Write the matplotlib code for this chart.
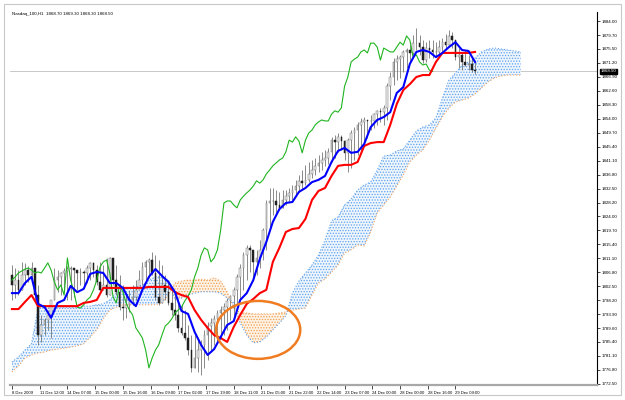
import matplotlib
matplotlib.use("Agg")
import matplotlib.pyplot as plt
import matplotlib.transforms as mtransforms
from matplotlib.patches import Ellipse, Rectangle
import numpy as np

title = "Nasdaq_100,H1  1868.70 1869.30 1868.30 1868.50"
last_price = 1868.50

# price bars, two hours per bar
high = [1809.0, 1808.1, 1807.5, 1810.0, 1809.7, 1808.7, 1810.0, 1807.5, 1802.9, 1793.7,
        1792.8, 1795.2, 1798.3, 1808.1, 1807.5, 1806.9, 1808.1, 1808.7, 1808.7, 1808.1,
        1807.5, 1808.1, 1807.5, 1809.0, 1810.0, 1810.0, 1809.0, 1810.0, 1809.0, 1811.2,
        1811.5, 1810.0, 1809.0, 1806.0, 1802.9, 1799.8, 1801.4, 1802.9, 1804.4, 1807.5,
        1810.0, 1810.6, 1811.2, 1813.0, 1812.1, 1810.6, 1809.0, 1806.0, 1804.4, 1801.4,
        1799.8, 1798.3, 1796.8, 1795.2, 1790.6, 1787.5, 1787.5, 1786.0, 1786.0, 1789.1,
        1791.5, 1792.8, 1793.7, 1795.2, 1796.5, 1797.4, 1798.9, 1799.8, 1802.3, 1806.3,
        1809.4, 1813.0, 1815.2, 1815.2, 1813.0, 1813.7, 1816.7, 1820.4, 1829.0, 1832.7,
        1832.7, 1832.1, 1831.5, 1832.1, 1832.1, 1832.7, 1833.6, 1835.2, 1836.7, 1838.2,
        1839.8, 1840.7, 1841.3, 1841.9, 1842.8, 1843.8, 1844.4, 1845.0, 1848.4, 1849.0,
        1849.6, 1849.0, 1847.4, 1848.1, 1850.5, 1851.4, 1853.0, 1854.2, 1854.5, 1853.6,
        1855.1, 1855.7, 1856.7, 1857.3, 1858.2, 1865.0, 1868.3, 1872.6, 1873.6, 1873.6,
        1875.1, 1875.7, 1876.6, 1879.7, 1881.8, 1879.7, 1878.2, 1877.5, 1878.2, 1878.2,
        1877.5, 1878.2, 1878.8, 1880.0, 1881.2, 1880.6, 1878.2, 1875.7, 1874.5, 1875.1,
        1873.6, 1872.6, 1871.4]
low = [1798.3, 1798.9, 1799.8, 1801.4, 1802.9, 1803.8, 1804.4, 1798.3, 1784.5, 1785.4,
       1787.5, 1789.1, 1786.6, 1798.3, 1800.8, 1799.8, 1801.4, 1798.3, 1798.3, 1799.2,
       1801.4, 1802.9, 1802.3, 1803.5, 1804.4, 1805.4, 1802.9, 1800.8, 1802.0, 1799.2,
       1806.0, 1802.9, 1799.8, 1795.2, 1792.2, 1792.8, 1794.6, 1796.8, 1798.3, 1801.4,
       1802.9, 1804.4, 1805.1, 1806.0, 1798.3, 1796.8, 1799.8, 1798.3, 1796.8, 1793.7,
       1792.2, 1788.5, 1787.5, 1786.0, 1781.4, 1776.2, 1778.3, 1776.2, 1775.3, 1777.4,
       1779.9, 1782.3, 1784.5, 1785.4, 1786.6, 1787.5, 1789.1, 1792.2, 1792.8, 1795.2,
       1798.3, 1801.4, 1804.4, 1806.9, 1805.1, 1806.0, 1808.1, 1810.6, 1813.7, 1819.8,
       1824.4, 1825.0, 1825.9, 1827.5, 1827.5, 1828.4, 1829.0, 1830.2, 1831.5, 1832.1,
       1833.6, 1834.5, 1835.8, 1836.7, 1837.6, 1838.2, 1839.5, 1840.1, 1840.7, 1841.9,
       1843.8, 1844.4, 1841.3, 1837.6, 1838.8, 1841.3, 1842.8, 1844.4, 1845.9, 1848.1,
       1850.5, 1851.1, 1852.1, 1853.0, 1852.1, 1853.6, 1859.7, 1864.3, 1865.9, 1866.5,
       1868.3, 1869.6, 1871.4, 1873.6, 1875.1, 1873.6, 1871.1, 1871.4, 1872.6, 1872.6,
       1872.9, 1873.6, 1874.5, 1875.7, 1876.6, 1875.7, 1872.0, 1869.6, 1868.9, 1870.2,
       1868.9, 1868.3, 1867.7]
close = [1802.9, 1804.4, 1801.4, 1806.0, 1807.5, 1806.0, 1808.1, 1799.8, 1787.5, 1790.6,
         1792.2, 1793.7, 1798.3, 1804.4, 1805.4, 1806.6, 1807.2, 1807.8, 1808.1, 1807.5,
         1806.6, 1806.9, 1806.6, 1808.1, 1809.7, 1807.5, 1803.8, 1801.4, 1802.9, 1799.8,
         1811.2, 1804.4, 1800.8, 1796.1, 1795.8, 1796.8, 1798.3, 1799.2, 1801.4, 1804.4,
         1808.4, 1810.0, 1810.6, 1806.6, 1799.2, 1797.4, 1802.9, 1800.8, 1797.4, 1795.2,
         1793.7, 1789.7, 1788.2, 1786.6, 1782.9, 1777.4, 1780.5, 1782.9, 1784.5, 1787.5,
         1790.3, 1791.2, 1792.5, 1794.3, 1795.2, 1796.1, 1798.0, 1799.5, 1801.4, 1805.4,
         1808.1, 1812.1, 1814.3, 1813.7, 1810.0, 1811.2, 1813.7, 1819.8, 1828.1, 1828.7,
         1828.7, 1827.5, 1826.6, 1829.0, 1830.2, 1831.2, 1832.1, 1833.3, 1834.9, 1834.2,
         1835.2, 1837.0, 1838.2, 1839.5, 1840.4, 1841.3, 1841.9, 1843.8, 1847.4, 1846.8,
         1848.4, 1847.1, 1843.5, 1847.4, 1849.6, 1850.5, 1852.1, 1853.0, 1853.6, 1853.3,
         1853.3, 1855.4, 1856.4, 1856.0, 1857.3, 1864.0, 1866.8, 1871.4, 1872.3, 1872.9,
         1874.5, 1875.1, 1874.2, 1877.2, 1877.2, 1876.0, 1872.0, 1875.7, 1875.1, 1874.5,
         1874.5, 1876.0, 1877.5, 1876.6, 1879.4, 1878.2, 1872.9, 1873.6, 1871.4, 1870.5,
         1870.8, 1868.9, 1868.5]
first_open = 1806.0

# ichimoku lines, one value every second bar
tenkan = [1800.4, 1800.4, 1803.5, 1805.4, 1797.1, 1796.1, 1792.8, 1797.4, 1798.3, 1802.6,
          1800.7, 1801.7, 1806.3, 1806.9, 1806.6, 1803.5, 1803.5, 1802.0, 1798.3, 1796.4,
          1801.4, 1805.4, 1807.8, 1805.7, 1803.8, 1800.7, 1794.9, 1794.0, 1788.5, 1784.5,
          1781.4, 1783.2, 1786.9, 1790.6, 1791.8, 1798.3, 1800.4, 1804.4, 1810.9, 1816.1,
          1822.3, 1826.2, 1828.1, 1828.4, 1831.5, 1832.7, 1834.5, 1835.2, 1836.4, 1840.7,
          1844.1, 1845.0, 1843.5, 1843.8, 1846.2, 1851.4, 1853.6, 1854.5, 1856.0, 1861.9,
          1863.7, 1870.8, 1874.5, 1875.1, 1874.5, 1872.9, 1874.2, 1876.0, 1877.5, 1875.1,
          1874.8, 1871.4]
kijun = [1795.5, 1795.5, 1797.7, 1799.8, 1796.4, 1796.4, 1796.4, 1796.4, 1796.4, 1796.4,
         1796.4, 1797.4, 1797.7, 1798.3, 1802.0, 1802.0, 1802.0, 1802.0, 1802.0, 1802.0,
         1802.0, 1802.3, 1802.3, 1802.3, 1802.3, 1800.7, 1799.8, 1799.2, 1795.2, 1792.2,
         1789.7, 1787.5, 1786.6, 1785.4, 1790.0, 1793.7, 1797.1, 1798.6, 1800.4, 1801.4,
         1810.0, 1814.3, 1819.2, 1820.1, 1820.4, 1823.2, 1829.0, 1831.8, 1832.7, 1836.4,
         1839.5, 1839.8, 1839.8, 1840.7, 1845.6, 1846.5, 1846.8, 1846.8, 1852.1, 1858.5,
         1862.8, 1864.6, 1866.8, 1867.4, 1867.4, 1871.4, 1874.2, 1874.2, 1874.2, 1874.2,
         1874.2, 1874.5]
span_a = [1776.2, 1778.0, 1780.5, 1781.4, 1782.0, 1782.3, 1782.9, 1783.2, 1783.5, 1783.8,
          1784.2, 1784.8, 1786.9, 1789.1, 1792.5, 1795.2, 1796.1, 1796.8, 1796.8, 1796.8,
          1796.8, 1796.8, 1796.8, 1797.4, 1799.8, 1803.5, 1804.1, 1804.4, 1804.4, 1804.7,
          1804.4, 1805.1, 1804.1, 1800.8, 1795.8, 1794.3, 1794.3, 1794.0, 1794.0, 1794.0,
          1794.0, 1794.3, 1794.6, 1795.2, 1795.5, 1795.8, 1799.8, 1803.5, 1804.7, 1806.9,
          1809.0, 1812.7, 1813.7, 1815.2, 1814.9, 1819.2, 1825.0, 1827.5, 1829.9, 1833.3,
          1836.7, 1840.7, 1842.8, 1844.4, 1847.4, 1851.1, 1854.5, 1857.3, 1859.1, 1859.7,
          1860.3, 1861.6, 1863.4, 1865.3, 1866.5, 1867.1, 1867.4, 1867.4, 1867.4]
span_b = [1779.2, 1780.8, 1782.9, 1784.8, 1795.8, 1796.1, 1796.1, 1796.1, 1796.1, 1796.1,
          1796.1, 1796.4, 1796.4, 1796.8, 1797.1, 1798.3, 1800.4, 1801.4, 1802.0, 1802.3,
          1802.9, 1804.4, 1805.4, 1805.4, 1804.4, 1798.3, 1798.9, 1799.8, 1800.4, 1800.8,
          1800.8, 1800.8, 1800.4, 1798.9, 1797.4, 1791.2, 1787.5, 1785.1, 1785.4, 1786.9,
          1789.1, 1791.2, 1793.4, 1800.4, 1804.1, 1806.6, 1809.0, 1812.1, 1816.7, 1822.6,
          1823.8, 1827.5, 1829.3, 1832.1, 1833.6, 1834.5, 1838.2, 1842.5, 1842.8, 1844.1,
          1844.7, 1847.4, 1850.2, 1851.4, 1852.1, 1854.2, 1860.3, 1865.9, 1868.0, 1870.5,
          1871.4, 1872.6, 1874.5, 1875.4, 1875.7, 1875.4, 1875.1, 1874.8, 1874.5]
chikou_shift = 13

price_ticks = [1884.00, 1879.70, 1875.50, 1871.20, 1866.90, 1862.60, 1858.30, 1854.00,
               1849.70, 1845.40, 1841.10, 1836.80, 1832.50, 1828.20, 1824.00, 1819.70,
               1815.40, 1811.10, 1806.80, 1802.50, 1798.20, 1793.90, 1789.60, 1785.40,
               1781.10, 1776.80, 1772.50]
time_labels = ["8 Dec 2009", "11 Dec 12:00", "14 Dec 07:00", "15 Dec 00:00", "15 Dec 16:00",
               "16 Dec 09:00", "17 Dec 02:00", "17 Dec 19:00", "18 Dec 11:00", "21 Dec 05:00",
               "21 Dec 22:00", "22 Dec 14:00", "23 Dec 07:00", "24 Dec 00:00", "28 Dec 00:00",
               "28 Dec 16:00", "29 Dec 09:00"]
bars_per_label = 8.5

plt.rcParams['font.family'] = ['Liberation Sans', 'DejaVu Sans']
plt.rcParams['hatch.linewidth'] = 0.6

high = np.array(high)
low = np.array(low)
close = np.array(close)
opens = np.r_[first_open, close[:-1]]
x = np.arange(len(close))

fig = plt.figure(figsize=(6.25, 4), dpi=100)
fig.patches.append(Rectangle((4 / 625, 5 / 400), 617 / 625, 391 / 400, transform=fig.transFigure,
                             fill=False, ec='#c8c8c8', lw=0.8))
ax = fig.add_axes([10 / 625, 15 / 400, 587 / 625, 373 / 400])

# cloud
xc = np.arange(len(span_a)) * 2
a = np.array(span_a)
b = np.array(span_b)
ax.fill_between(xc, a, b, where=b >= a, interpolate=True, facecolor='#eef5fd',
                edgecolor='#5ea3ee', hatch='......', lw=0, zorder=1)
ax.fill_between(xc, a, b, where=a > b, interpolate=True, facecolor='#fdf2e6',
                edgecolor='#f3a04c', hatch='......', lw=0, zorder=1)
ax.plot(xc, a, color='#f4a460', ls=':', lw=0.8, zorder=1.5)
ax.plot(xc, b, color='#5ea3ee', ls=':', lw=0.8, zorder=1.5)

# candles
ax.vlines(x, np.minimum(low, np.minimum(opens, close)), np.maximum(high, np.maximum(opens, close)),
          color='#6a6a6a', lw=0.55, zorder=2)
up = close >= opens
ax.bar(x[up], close[up] - opens[up], bottom=opens[up], width=0.5, color='#f2f2f2',
       edgecolor='#707070', lw=0.35, zorder=2.1)
ax.bar(x[~up], close[~up] - opens[~up], bottom=opens[~up], width=0.5, color='#202020',
       edgecolor='#202020', lw=0.35, zorder=2.1)

# lines
xl = np.arange(len(tenkan)) * 2
ax.plot(x[:-chikou_shift], close[chikou_shift:], color='#1fb51f', lw=0.8, zorder=3)
ax.plot(xl, kijun, color='#ff0000', lw=1.5, zorder=3.2)
ax.plot(xl, tenkan, color='#0000ff', lw=1.5, zorder=3.3)

ax.axhline(last_price, color='#c8c8c8', lw=0.7, zorder=0.5)

ax.add_patch(Ellipse((75.5, 1789.1), 25.8, 17.8, fill=False, ec='#f07c22', lw=1.8, zorder=5))

ax.set_xlim(-0.6, 179.4)
ax.set_ylim(1772.17, 1886.77)

ax.yaxis.tick_right()
ax.set_yticks(price_ticks)
ax.set_yticklabels([f"{v:.2f}" for v in price_ticks])
ax.set_xticks(np.arange(len(time_labels)) * bars_per_label)
ax.set_xticklabels(time_labels, ha='left')
ax.tick_params(axis='y', labelsize=3.2, length=2.5, width=0.5, pad=1)
ax.tick_params(axis='x', labelsize=3.0, length=3, width=0.5, pad=1.5)

for side in ['left', 'top']:
    ax.spines[side].set_visible(False)
ax.spines['right'].set_color('black')
ax.spines['right'].set_linewidth(0.8)
ax.spines['bottom'].set_color('#a8a8a8')
ax.spines['bottom'].set_linewidth(1.6)

trans = mtransforms.blended_transform_factory(ax.transAxes, ax.transData)
ax.text(1.006, last_price, f"{last_price:.2f}", transform=trans, va='center', ha='left',
        fontsize=3.2, color='white', zorder=6,
        bbox=dict(boxstyle='square,pad=0.15', fc='black', ec='black'))

fig.text(12 / 625, 1 - 14 / 400, title, fontsize=3.2, va='center', ha='left')

fig.savefig('out.png', dpi=100)
